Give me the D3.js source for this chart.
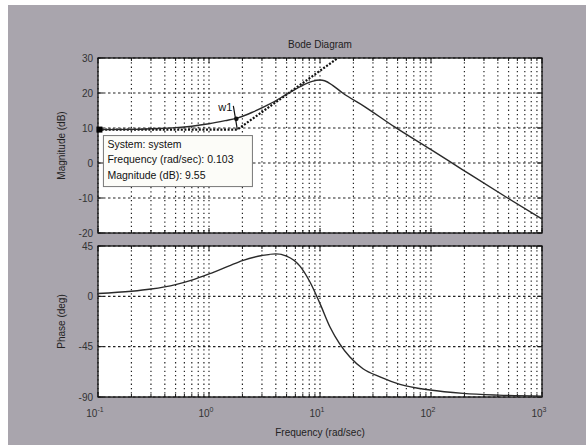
<!DOCTYPE html>
<html>
<head>
<meta charset="utf-8">
<script src="https://cdn.jsdelivr.net/npm/d3@7"></script>
<style>
body { margin: 0; background: #fff; }
text { font-family: "Liberation Sans", Arial, sans-serif; }
</style>
</head>
<body>
<script>
"use strict";

/////data

var magFreq = [0.1, 0.2, 0.3, 0.5, 0.7, 1.0, 1.4, 1.82, 2.5, 3.5, 5, 7, 8.5, 10, 11, 13, 16, 25, 47, 100, 190, 490, 1000];
var magDb   = [9.55, 9.6, 9.8, 10.1, 10.5, 11.2, 12.1, 12.9, 14.6, 16.8, 19.6, 22.2, 23.3, 23.7, 23.5, 22.2, 20, 16.2, 10.3, 3.8, -1.8, -10, -16];

var phaseFreq = [0.1, 0.2, 0.3, 0.5, 0.7, 1.0, 1.5, 2, 3, 4, 5, 6.6, 8.1, 10, 12.3, 15, 18.6, 24.4, 34.7, 52.5, 98, 195, 400, 1000];
var phaseDeg  = [2.5, 4.5, 6.5, 10.5, 14.5, 20, 27, 32, 36.5, 38, 36, 27, 13, -6.5, -27.4, -42.3, -54.3, -64.7, -72, -78.7, -83.8, -86.8, -88.3, -89.2];

// asymptote drawn with the thick dots (w1 corner)
var asymFreq = [0.1, 1.8, 14.5];
var asymDb   = [9.55, 9.55, 30];

var magTicks = [30, 20, 10, 0, -10, -20];
var phaseTicks = [45, 0, -45, -90];
var decades = [-1, 0, 1, 2, 3];

var tipFreq = 0.103, tipMag = 9.55;
var tipLines = ["System: system", "Frequency (rad/sec): 0.103", "Magnitude (dB): 9.55"];
var w1 = 1.8;

var width = 586, height = 445;

var svg = d3.select("body").append("svg")
  .attr("width", width)
  .attr("height", height);

// figure background
svg.append("rect").attr("width", width).attr("height", height).attr("fill", "#fff");
svg.append("rect").attr("x", 8).attr("y", 5).attr("width", width - 8).attr("height", height - 5)
  .attr("fill", "#a9a5ad");

var x = d3.scaleLog().domain([0.1, 1000]).range([98, 542]);
var yMag = d3.scaleLinear().domain([-20, 30]).range([233, 58]);
var yPh = d3.scaleLinear().domain([-90, 45]).range([397, 246]);

// all the 1..9 lines of each decade
var minor = [];
decades.forEach(d => {
  d3.range(1, 10).forEach(k => {
    var f = k * Math.pow(10, d);
    if (f <= 1000) minor.push(f);
  });
});

function panel(y, ticks) {
  var y0 = y.range()[0], y1 = y.range()[1];
  var g = svg.append("g");

  g.append("rect")
    .attr("x", 98).attr("y", y1)
    .attr("width", 444).attr("height", y0 - y1)
    .attr("fill", "#fff");

  // vertical dotted grid
  g.selectAll(".vg").data(minor).enter().append("line")
    .attr("x1", d => x(d)).attr("x2", d => x(d))
    .attr("y1", y1).attr("y2", y0)
    .attr("stroke", "#222")
    .attr("stroke-width", 1.2)
    .style("stroke-dasharray", "1.3,3");

  // horizontal grid
  g.selectAll(".hg").data(ticks).enter().append("line")
    .attr("x1", 98).attr("x2", 542)
    .attr("y1", d => y(d)).attr("y2", d => y(d))
    .attr("stroke", "#222")
    .attr("stroke-width", 1.1)
    .style("stroke-dasharray", "2.5,2.5");

  // inward ticks top / bottom
  [y0, y1].forEach((yy, i) => {
    g.selectAll(".tk" + i).data(minor).enter().append("line")
      .attr("x1", d => x(d)).attr("x2", d => x(d))
      .attr("y1", yy)
      .attr("y2", d => {
        var len = Math.abs(Math.log10(d) - Math.round(Math.log10(d))) < 1e-9 ? 5 : 3;
        return i === 0 ? yy - len : yy + len;
      })
      .attr("stroke", "#111");
  });

  // y ticks both sides
  g.selectAll(".yt").data(ticks).enter().append("line")
    .attr("x1", 98).attr("x2", 103)
    .attr("y1", d => y(d)).attr("y2", d => y(d))
    .attr("stroke", "#111");
  g.selectAll(".yt2").data(ticks).enter().append("line")
    .attr("x1", 537).attr("x2", 542)
    .attr("y1", d => y(d)).attr("y2", d => y(d))
    .attr("stroke", "#111");

  g.selectAll(".yl").data(ticks).enter().append("text")
    .attr("x", 93)
    .attr("y", d => y(d))
    .attr("dy", "0.35em")
    .style("text-anchor", "end")
    .style("font-size", "10px")
    .attr("fill", "#333")
    .text(d => d);

  g.append("rect")
    .attr("x", 98).attr("y", y1)
    .attr("width", 444).attr("height", y0 - y1)
    .attr("fill", "none")
    .attr("stroke", "#111")
    .attr("stroke-width", 1.3);

  return g;
}

var gm = panel(yMag, magTicks);
var gp = panel(yPh, phaseTicks);

var magLine = d3.line()
  .curve(d3.curveMonotoneX)
  .x(d => x(d[0]))
  .y(d => yMag(d[1]));

var phLine = d3.line()
  .curve(d3.curveMonotoneX)
  .x(d => x(d[0]))
  .y(d => yPh(d[1]));

// asymptote
gm.append("path")
  .attr("d", d3.line().x(d => x(d[0])).y(d => yMag(d[1]))(d3.zip(asymFreq, asymDb)))
  .attr("fill", "none")
  .attr("stroke", "#111")
  .attr("stroke-width", 2.2)
  .style("stroke-dasharray", "2,1.6");

gm.append("path")
  .attr("d", magLine(d3.zip(magFreq, magDb)))
  .attr("fill", "none")
  .attr("stroke", "#2a2a2a")
  .attr("stroke-width", 1.4);

gp.append("path")
  .attr("d", phLine(d3.zip(phaseFreq, phaseDeg)))
  .attr("fill", "none")
  .attr("stroke", "#2a2a2a")
  .attr("stroke-width", 1.4);

// w1 marker
var w1Mag = magDb[magFreq.indexOf(1.82)];
gm.append("line")
  .attr("x1", x(w1) - 4).attr("y1", yMag(w1Mag) - 12)
  .attr("x2", x(w1)).attr("y2", yMag(9.55))
  .attr("stroke", "#111").attr("stroke-width", 1.2);
gm.append("circle")
  .attr("cx", x(w1) - 1).attr("cy", yMag(w1Mag) + 1)
  .attr("r", 2.3).attr("fill", "#111");
gm.append("text")
  .attr("x", x(w1) - 19).attr("y", yMag(w1Mag) - 7)
  .style("font-size", "11px")
  .attr("fill", "#111")
  .text("w1");

// datatip
var tx = x(tipFreq), ty = yMag(tipMag);
gm.append("rect")
  .attr("x", tx + 4).attr("y", ty + 6)
  .attr("width", 149).attr("height", 51)
  .attr("fill", "#fcfcf8")
  .attr("stroke", "#777");
gm.selectAll(".tip").data(tipLines).enter().append("text")
  .attr("x", tx + 8)
  .attr("y", (d, i) => ty + 18 + i * 15.5)
  .style("font-size", "10.5px")
  .attr("fill", "#111")
  .text(d => d);
gm.append("rect")
  .attr("x", tx - 3).attr("y", ty - 3)
  .attr("width", 6).attr("height", 6)
  .attr("fill", "#000");

///labels

svg.append("text")
  .attr("x", 320).attr("y", 48)
  .style("text-anchor", "middle")
  .style("font-size", "10px")
  .attr("fill", "#222")
  .text("Bode Diagram");

svg.append("text")
  .attr("transform", "translate(65," + (58 + 233) / 2 + ") rotate(-90)")
  .style("text-anchor", "middle")
  .style("font-size", "10px")
  .attr("fill", "#222")
  .text("Magnitude (dB)");

svg.append("text")
  .attr("transform", "translate(65," + (246 + 397) / 2 + ") rotate(-90)")
  .style("text-anchor", "middle")
  .style("font-size", "10px")
  .attr("fill", "#222")
  .text("Phase (deg)");

svg.append("text")
  .attr("x", 320).attr("y", 436)
  .style("text-anchor", "middle")
  .style("font-size", "10px")
  .attr("fill", "#222")
  .text("Frequency (rad/sec)");

var xl = svg.selectAll(".xl").data(decades).enter().append("text")
  .attr("x", d => x(Math.pow(10, d)) - 3)
  .attr("y", 417)
  .style("text-anchor", "middle")
  .style("font-size", "10px")
  .attr("fill", "#333");
xl.append("tspan").text("10");
xl.append("tspan")
  .attr("dy", "-5")
  .style("font-size", "7px")
  .text(d => d);
</script>
</body>
</html>
